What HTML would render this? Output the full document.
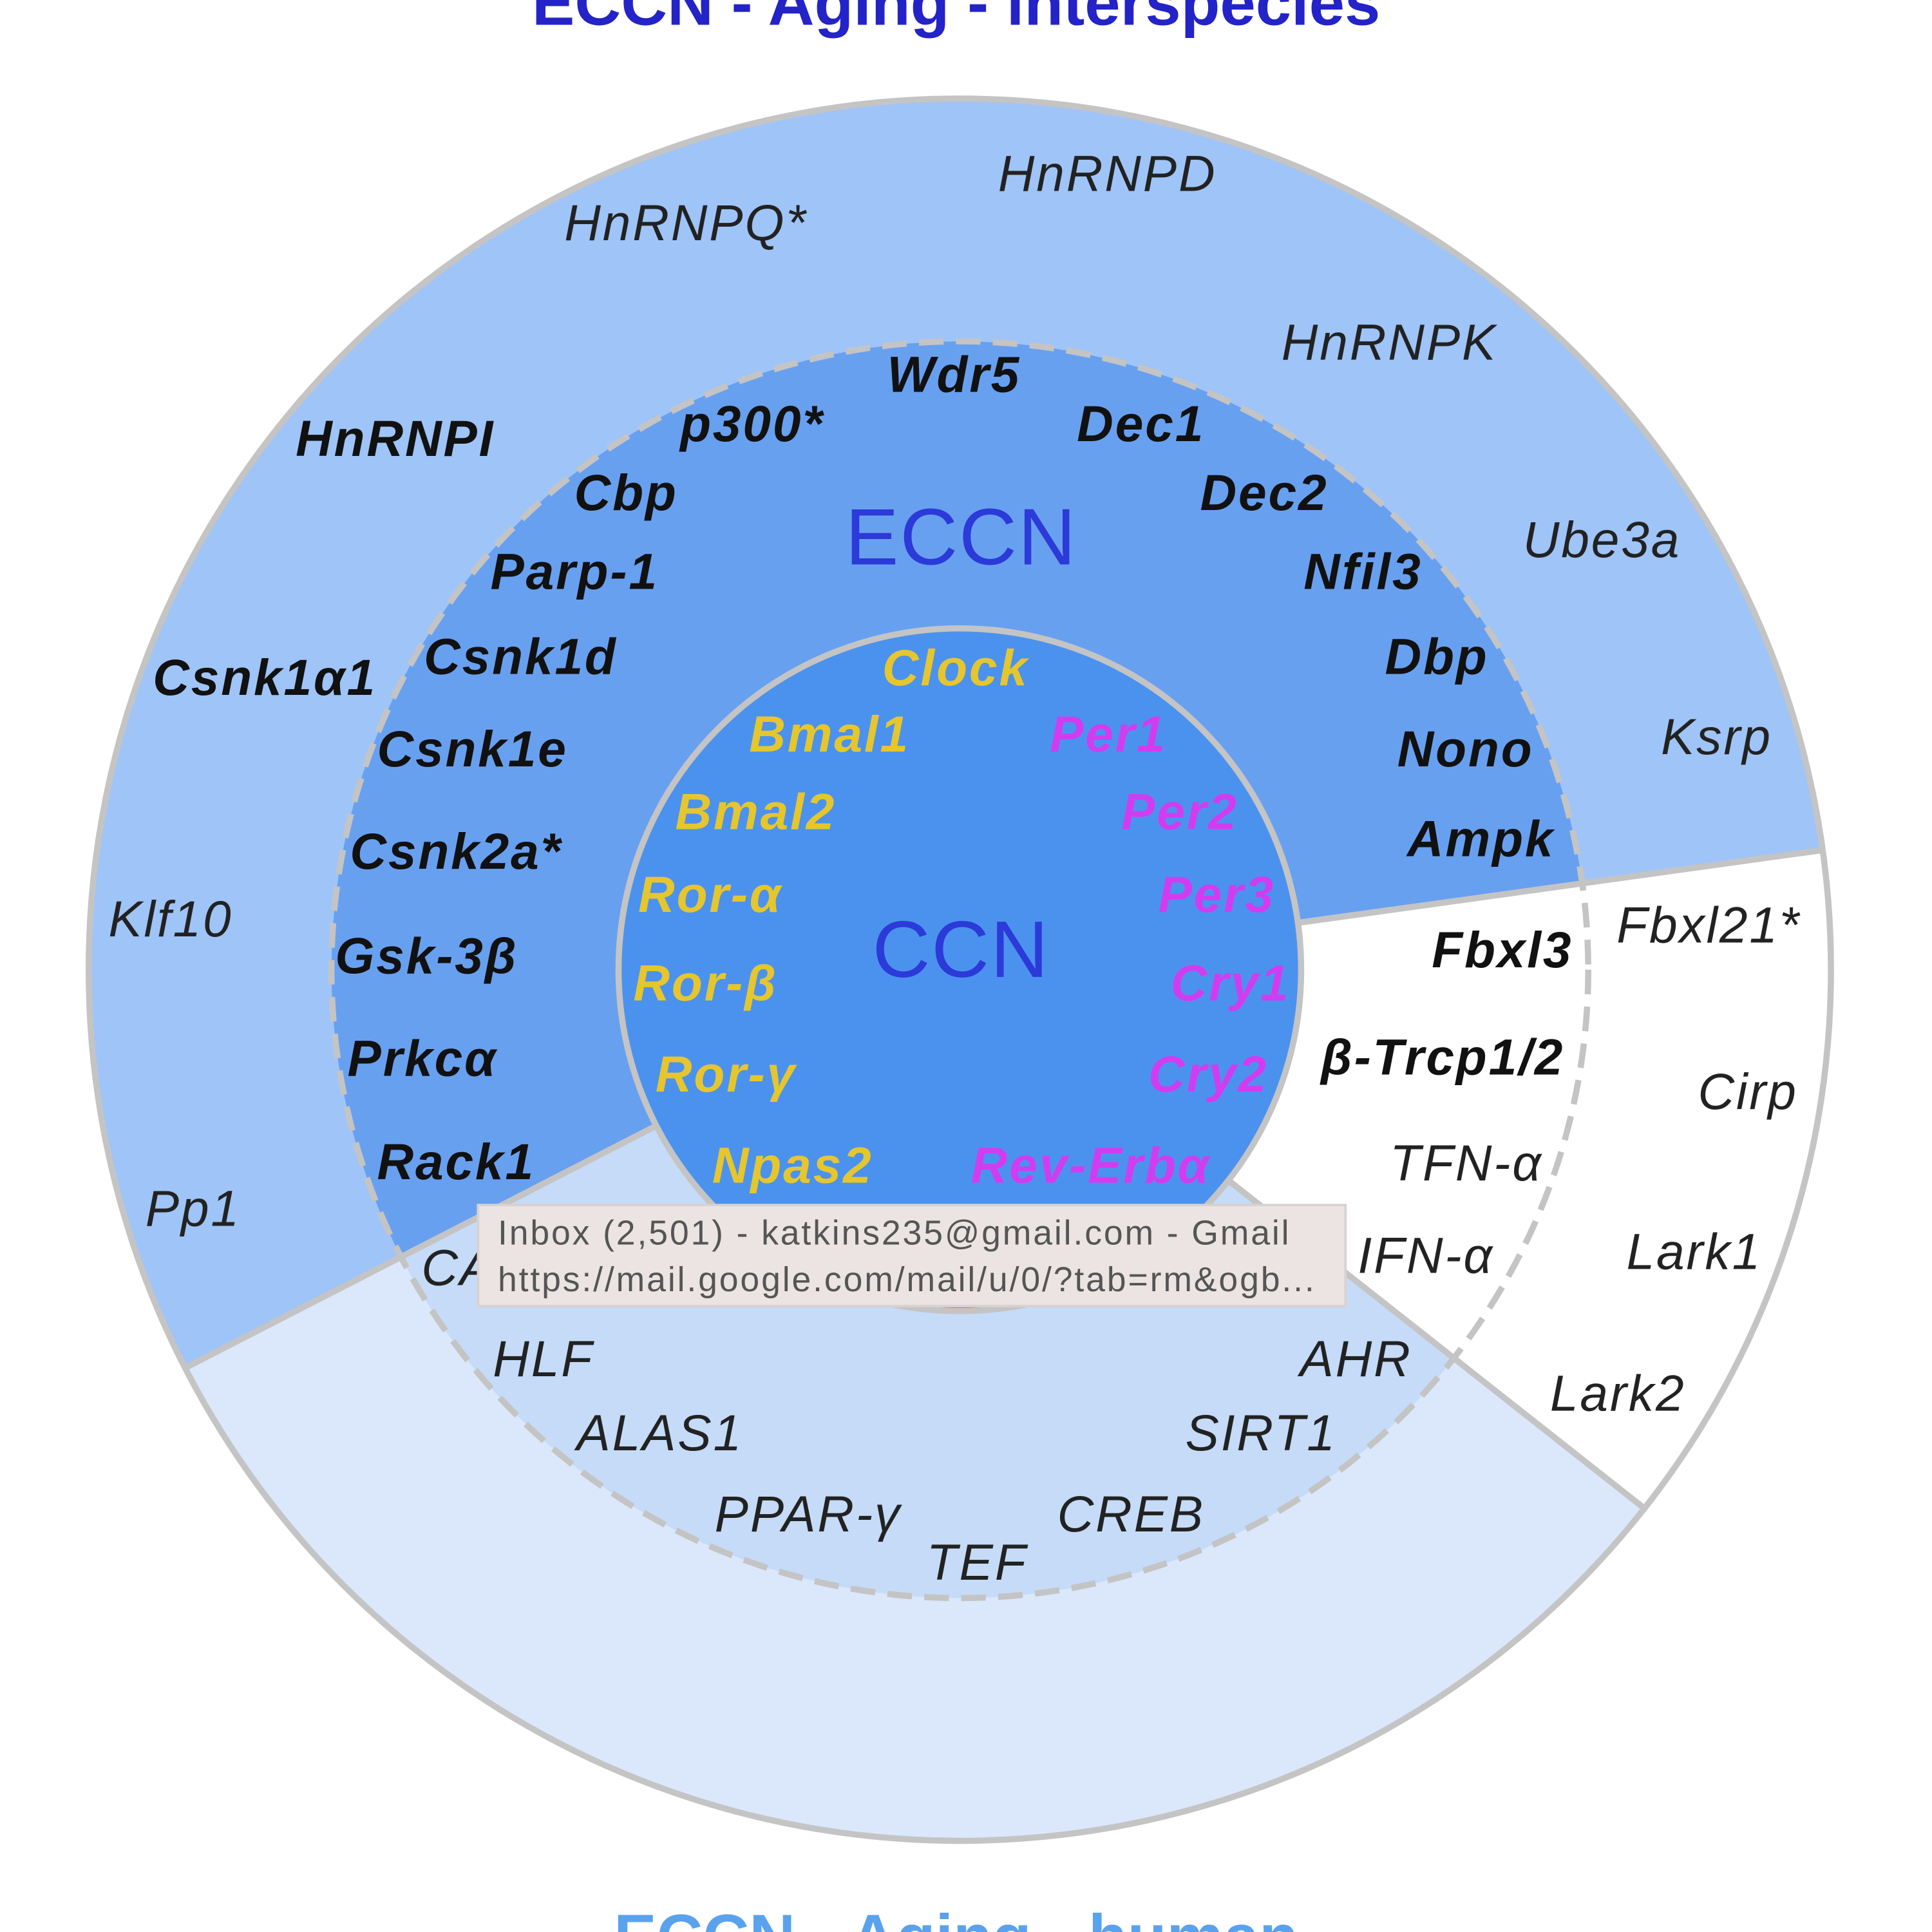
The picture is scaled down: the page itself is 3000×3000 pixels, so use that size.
<!DOCTYPE html>
<html><head><meta charset="utf-8"><style>
html,body{margin:0;padding:0;background:#fff;}
svg{display:block;}
text{font-family:"Liberation Sans",Arial,sans-serif;}
.o{font-size:41px;letter-spacing:1.5px;font-style:italic;fill:#222;}
.b{font-size:41px;letter-spacing:1.5px;font-style:italic;font-weight:bold;fill:#111;}
.y{font-size:41px;letter-spacing:1.5px;font-style:italic;font-weight:bold;fill:#e6c62e;}
.m{font-size:41px;letter-spacing:1.5px;font-style:italic;font-weight:bold;fill:#d23cf0;}
</style></head><body>
<svg width="3000" height="3000" viewBox="0 0 1568 1568" xmlns="http://www.w3.org/2000/svg">
<rect width="1568" height="1568" fill="#fff"/>
<path d="M779 787 L150.2 1110.2 A707 707 0 1 1 1479.3 689.9 Z" fill="#9fc4f7"/>
<path d="M779 787 L1479.3 689.9 A707 707 0 0 1 1334.6 1224.2 Z" fill="#ffffff"/>
<path d="M779 787 L1334.6 1224.2 A707 707 0 0 1 150.2 1110.2 Z" fill="#dbe8fb"/>
<path d="M779 787 L325.4 1020.1 A510 510 0 1 1 1284.2 716.9 Z" fill="#68a0f0"/>
<path d="M779 787 L1179.8 1102.4 A510 510 0 0 1 325.4 1020.1 Z" fill="#c5dbf8"/>
<g stroke="#c4c4c4" stroke-width="5" fill="none">
<line x1="150.2" y1="1110.2" x2="532" y2="914"/>
<line x1="1479.3" y1="689.9" x2="1053" y2="749"/>
<line x1="1334.6" y1="1224.2" x2="997" y2="958"/>
<circle cx="779" cy="787" r="707"/>
<circle cx="779" cy="787" r="510" stroke-dasharray="20 10"/>
</g>
<circle cx="779" cy="787" r="277" fill="#4b92ee" stroke="#c4c4c4" stroke-width="5"/>
<text x="776" y="20" text-anchor="middle" style="font-size:52px;font-weight:bold;fill:#2323c8">ECCN - Aging - interspecies</text>
<text x="776" y="1590" text-anchor="middle" style="font-size:52px;font-weight:bold;fill:#5aa2ee">ECCN - Aging - human</text>
<text x="686" y="458" style="font-size:65px;letter-spacing:1px;fill:#2b3ad8">ECCN</text>
<text x="708" y="793" style="font-size:65px;letter-spacing:1px;fill:#2b3ad8">CCN</text>
<text class="o" x="810" y="155">HnRNPD</text>
<text class="o" x="458" y="195">HnRNPQ*</text>
<text class="o" x="1040" y="292">HnRNPK</text>
<text class="o" x="1236" y="452">Ube3a</text>
<text class="o" x="1348" y="612">Ksrp</text>
<text class="o" x="88" y="760">Klf10</text>
<text class="o" x="118" y="995">Pp1</text>
<text class="o" x="1312" y="765">Fbxl21*</text>
<text class="o" x="1378" y="900">Cirp</text>
<text class="o" x="1320" y="1030">Lark1</text>
<text class="o" x="1258" y="1145">Lark2</text>
<text class="b" x="240" y="370">HnRNPI</text>
<text class="b" x="124" y="564">Csnk1α1</text>
<text class="b" x="720" y="318">Wdr5</text>
<text class="b" x="552" y="358">p300*</text>
<text class="b" x="874" y="358">Dec1</text>
<text class="b" x="466" y="414">Cbp</text>
<text class="b" x="974" y="414">Dec2</text>
<text class="b" x="398" y="478">Parp-1</text>
<text class="b" x="1058" y="478">Nfil3</text>
<text class="b" x="344" y="547">Csnk1d</text>
<text class="b" x="1124" y="547">Dbp</text>
<text class="b" x="306" y="622">Csnk1e</text>
<text class="b" x="1134" y="622">Nono</text>
<text class="b" x="284" y="705">Csnk2a*</text>
<text class="b" x="1142" y="695">Ampk</text>
<text class="b" x="272" y="790">Gsk-3β</text>
<text class="b" x="282" y="873">Prkcα</text>
<text class="b" x="306" y="957">Rack1</text>
<text class="b" x="1162" y="785">Fbxl3</text>
<text class="b" x="1072" y="872">β-Trcp1/2</text>
<text class="o" x="1128" y="958">TFN-α</text>
<text class="o" x="1102" y="1033">IFN-α</text>
<text class="o" x="342" y="1043">CA</text>
<text class="o" x="400" y="1117">HLF</text>
<text class="o" x="1055" y="1117">AHR</text>
<text class="o" x="468" y="1177">ALAS1</text>
<text class="o" x="962" y="1177">SIRT1</text>
<text class="o" x="580" y="1243">PPAR-γ</text>
<text class="o" x="858" y="1243">CREB</text>
<text class="o" x="752" y="1282">TEF</text>
<text class="y" x="716" y="556">Clock</text>
<text class="y" x="608" y="610">Bmal1</text>
<text class="y" x="548" y="673">Bmal2</text>
<text class="y" x="518" y="740">Ror-α</text>
<text class="y" x="514" y="812">Ror-β</text>
<text class="y" x="532" y="886">Ror-γ</text>
<text class="y" x="578" y="960">Npas2</text>
<text class="m" x="852" y="610">Per1</text>
<text class="m" x="910" y="673">Per2</text>
<text class="m" x="940" y="740">Per3</text>
<text class="m" x="950" y="812">Cry1</text>
<text class="m" x="932" y="886">Cry2</text>
<text class="m" x="788" y="960">Rev-Erbα</text>
<rect x="388" y="978" width="704" height="82" fill="#ebe4e2" stroke="#d8d2d0" stroke-width="2"/>
<text x="404" y="1010" style="font-size:28px;letter-spacing:1.5px;fill:#555">Inbox (2,501) - katkins235@gmail.com - Gmail</text>
<text x="404" y="1048" style="font-size:28px;letter-spacing:1.5px;fill:#555">https://mail.google.com/mail/u/0/?tab=rm&amp;ogb...</text>
</svg>
</body></html>
